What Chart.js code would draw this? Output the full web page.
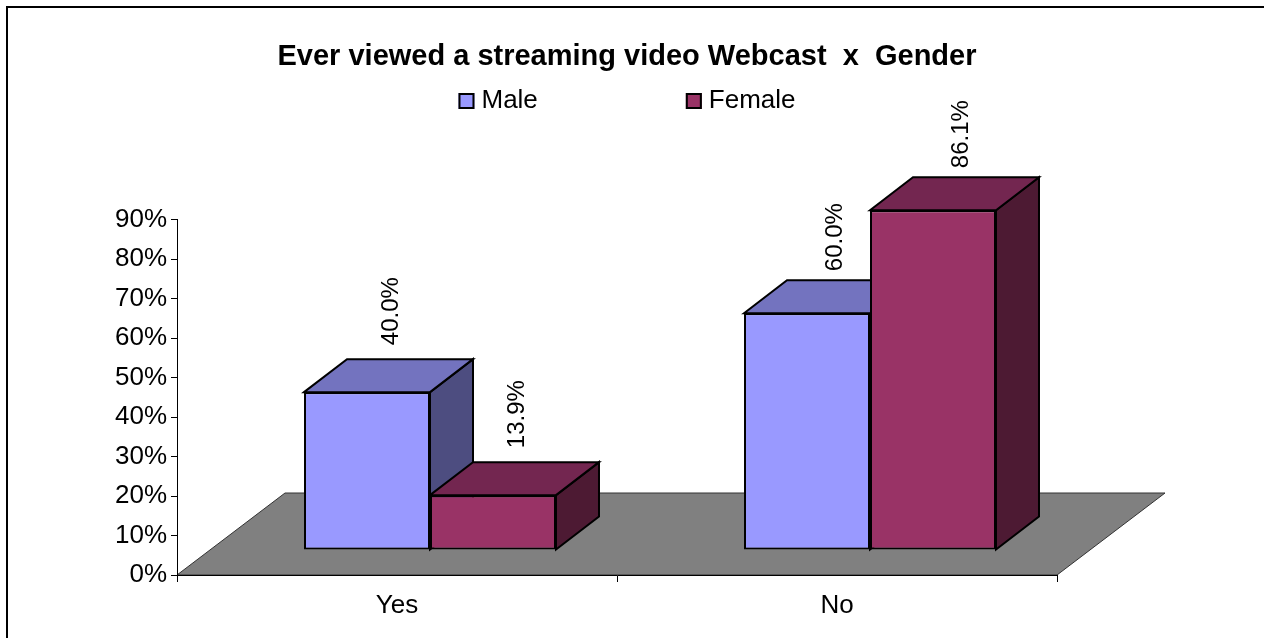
<!DOCTYPE html>
<html>
<head>
<meta charset="utf-8">
<title>Ever viewed a streaming video Webcast x Gender</title>
<script src="https://cdn.jsdelivr.net/npm/chart.js@4.4.1/dist/chart.umd.min.js"></script>
<style>
  html, body { margin: 0; padding: 0; background: #fff; }
  #wrap { width: 1264px; height: 638px; }
</style>
</head>
<body>
<div id="wrap"><canvas id="chart" width="1264" height="638"></canvas></div>
<script>
// ---- data ----
const categories = ['Yes', 'No'];
const seriesNames = ['Male', 'Female'];
const maleValues = [40.0, 60.0];
const femaleValues = [13.9, 86.1];
const yTickValues = [0, 10, 20, 30, 40, 50, 60, 70, 80, 90];
const chartTitle = 'Ever viewed a streaming video Webcast  x  Gender';

// ---- style ----
const FONT = '"Liberation Sans", Arial, Helvetica, sans-serif';
const frontColors = ['#9999FF', '#993366'];
const topColors = ['#7373BF', '#732650'];
const sideColors = ['#4D4D80', '#4D1A33'];

// oblique projection: floor depth, where the row of bars stands, bar depth
const FLOOR_DX = 108, FLOOR_DY = -82;
const ROW_DX = 33, ROW_DY = -25;
const BAR_DX = 43, BAR_DY = -33;

function poly(ctx, pts, fill) {
  ctx.beginPath();
  ctx.moveTo(pts[0][0], pts[0][1]);
  for (let i = 1; i < pts.length; i++) ctx.lineTo(pts[i][0], pts[i][1]);
  ctx.closePath();
  ctx.fillStyle = fill;
  ctx.fill();
  ctx.stroke();
}

const scene3d = {
  id: 'scene3d',
  beforeDraw(chart) {
    const { ctx, width, height } = chart;
    const xs = chart.scales.x, ys = chart.scales.y;
    ctx.save();
    ctx.fillStyle = '#fff';
    ctx.fillRect(0, 0, width, height);
    // outer frame
    ctx.strokeStyle = '#000';
    ctx.lineWidth = 2;
    ctx.strokeRect(7, 7, width + 10, height + 10);
    // floor
    const y0 = ys.getPixelForValue(0);
    ctx.beginPath();
    ctx.moveTo(xs.left, y0);
    ctx.lineTo(xs.right, y0);
    ctx.lineTo(xs.right + FLOOR_DX, y0 + FLOOR_DY);
    ctx.lineTo(xs.left + FLOOR_DX, y0 + FLOOR_DY);
    ctx.closePath();
    ctx.fillStyle = '#808080';
    ctx.fill();
    ctx.strokeStyle = '#333';
    ctx.lineWidth = 1;
    ctx.stroke();
    ctx.restore();
  },
  beforeDatasetsDraw(chart) {
    const ctx = chart.ctx;
    ctx.save();
    ctx.translate(ROW_DX, ROW_DY);
    ctx.lineWidth = 2;
    ctx.strokeStyle = '#000';
    ctx.lineJoin = 'miter';
    for (let i = 0; i < chart.data.labels.length; i++) {
      chart.data.datasets.forEach((ds, d) => {
        const bar = chart.getDatasetMeta(d).data[i];
        const { x, y, base, width } = bar.getProps(['x', 'y', 'base', 'width'], true);
        const l = x - width / 2, r = x + width / 2;
        poly(ctx, [[r, y], [r + BAR_DX, y + BAR_DY], [r + BAR_DX, base + BAR_DY], [r, base]], sideColors[d]);
        poly(ctx, [[l, y], [l + BAR_DX, y + BAR_DY], [r + BAR_DX, y + BAR_DY], [r, y]], topColors[d]);
      });
    }
  },
  afterDatasetsDraw(chart) {
    const ctx = chart.ctx;
    ctx.restore();
    // value labels, rotated, above each bar
    ctx.save();
    ctx.fillStyle = '#000';
    ctx.font = '24px ' + FONT;
    ctx.textAlign = 'left';
    ctx.textBaseline = 'middle';
    chart.data.datasets.forEach((ds, d) => {
      chart.getDatasetMeta(d).data.forEach((bar, i) => {
        const { x, y } = bar.getProps(['x', 'y'], true);
        const lx = x + ROW_DX + 24 + (i * 4);
        const ly = y + ROW_DY + BAR_DY - 14 + (i * 5);
        ctx.save();
        ctx.translate(lx, ly);
        ctx.rotate(-Math.PI / 2);
        ctx.fillText(ds.data[i].toFixed(1) + '%', 0, 0);
        ctx.restore();
      });
    });
    ctx.restore();
  },
  afterDraw(chart) {
    // legend row under the title
    const ctx = chart.ctx;
    const tb = chart.titleBlock;
    const center = (tb.left + tb.right) / 2;
    const ly = 101, BOX = 16, GAP = 7, SPACING = 148;
    ctx.save();
    ctx.font = '26px ' + FONT;
    const items = chart.data.datasets.map((ds, d) => ({
      text: ds.label, color: frontColors[d], w: ctx.measureText(ds.label).width
    }));
    const total = items.reduce((a, it) => a + BOX + GAP + it.w, 0) + SPACING * (items.length - 1);
    let cx = center - total / 2;
    items.forEach(it => {
      ctx.fillStyle = it.color;
      ctx.fillRect(cx, ly - BOX / 2, BOX, BOX);
      ctx.lineWidth = 2;
      ctx.strokeStyle = '#000';
      ctx.strokeRect(cx + 1, ly - BOX / 2 + 1, BOX - 2, BOX - 2);
      ctx.fillStyle = '#000';
      ctx.textAlign = 'left';
      ctx.textBaseline = 'middle';
      ctx.fillText(it.text, cx + BOX + GAP, ly);
      cx += BOX + GAP + it.w + SPACING;
    });
    ctx.restore();
  }
};

new Chart(document.getElementById('chart'), {
  type: 'bar',
  data: {
    labels: categories,
    datasets: [
      { label: seriesNames[0], data: maleValues, backgroundColor: frontColors[0] },
      { label: seriesNames[1], data: femaleValues, backgroundColor: frontColors[1] }
    ]
  },
  options: {
    responsive: false,
    devicePixelRatio: 1,
    animation: false,
    events: [],
    layout: { padding: { left: 0, right: 10, top: 0, bottom: 0 } },
    datasets: {
      bar: {
        categoryPercentage: 0.5727,
        barPercentage: 1,
        borderColor: '#000',
        borderWidth: 2,
        borderSkipped: false,
        clip: false
      }
    },
    plugins: {
      legend: { display: false },
      tooltip: { enabled: false },
      title: {
        display: true,
        text: chartTitle,
        color: '#000',
        font: { family: FONT, size: 29, weight: 'bold' },
        padding: { top: 40, bottom: 145 }
      }
    },
    scales: {
      x: {
        offset: true,
        ticks: { color: '#000', font: { family: FONT, size: 26 }, padding: 8, maxRotation: 0 },
        grid: { display: true, drawOnChartArea: false, offset: true, tickLength: 7, color: '#000', lineWidth: 1 },
        border: { display: true, color: '#000', width: 1 },
        afterFit(s) { s.height = 63; }
      },
      y: {
        min: 0,
        max: 90,
        afterBuildTicks(s) { s.ticks = yTickValues.map(v => ({ value: v })); },
        ticks: {
          autoSkip: false,
          color: '#000',
          font: { family: FONT, size: 26 },
          padding: 4,
          callback: v => v + '%'
        },
        grid: { display: true, drawOnChartArea: false, tickLength: 6, color: '#000', lineWidth: 1 },
        border: { display: true, color: '#000', width: 1 },
        afterFit(s) { s.width = 177; }
      },
      side: {
        type: 'linear',
        position: 'right',
        display: true,
        ticks: { display: false },
        grid: { display: false },
        border: { display: false },
        afterFit(s) { s.width = 197; }
      }
    }
  },
  plugins: [scene3d]
});
</script>
</body>
</html>
